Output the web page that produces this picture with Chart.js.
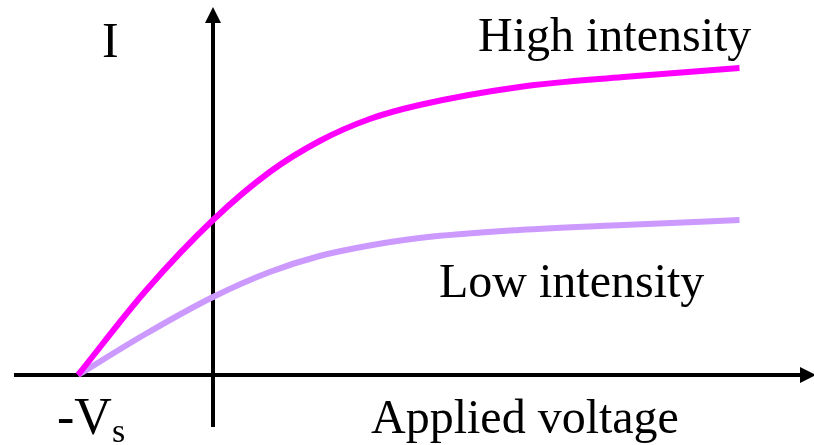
<!DOCTYPE html>
<html>
<head>
<meta charset="utf-8">
<script src="https://cdn.jsdelivr.net/npm/chart.js@4"></script>
<style>
  html, body { margin: 0; padding: 0; background: #fff; }
  #wrap { width: 814px; height: 445px; }
</style>
</head>
<body>
<div id="wrap"><canvas id="chart" width="814" height="445"></canvas></div>
<script>
// applied voltage (units of Vs) and photocurrent
const voltage = [-1, -0.5, 0, 0.42, 0.79, 1.16, 1.53, 2.27, 3.04, 3.9];
const highCurrent = [0, 0.84, 1.55, 2.03, 2.34, 2.56, 2.70, 2.88, 2.98, 3.07];
const lowCurrent = [0, 0.41, 0.78, 1.03, 1.19, 1.295, 1.37, 1.45, 1.50, 1.55];
const seriesLabels = ["High intensity", "Low intensity"];

const toPoints = (ys) => voltage.map((v, i) => ({ x: v, y: ys[i] }));

const serif = "'Liberation Serif', 'DejaVu Serif', serif";

// hand-drawn axes with arrows, crossing at (0, 0)
const axesPlugin = {
  id: "axes",
  beforeDatasetsDraw(chart) {
    const { ctx, scales } = chart;
    const x0 = scales.x.getPixelForValue(0);
    const y0 = scales.y.getPixelForValue(0);
    ctx.save();
    ctx.strokeStyle = "#000";
    ctx.fillStyle = "#000";
    ctx.lineWidth = 4;
    ctx.beginPath();
    ctx.moveTo(14, y0);
    ctx.lineTo(802, y0);
    ctx.moveTo(x0, 427);
    ctx.lineTo(x0, 20);
    ctx.stroke();
    // right arrow
    ctx.beginPath();
    ctx.moveTo(816, y0);
    ctx.lineTo(800, y0 - 8);
    ctx.lineTo(800, y0 + 8);
    ctx.closePath();
    ctx.fill();
    // up arrow
    ctx.beginPath();
    ctx.moveTo(x0, 7);
    ctx.lineTo(x0 - 8, 23);
    ctx.lineTo(x0 + 8, 23);
    ctx.closePath();
    ctx.fill();
    ctx.restore();
  },
  afterDatasetsDraw(chart) {
    const { ctx } = chart;
    ctx.save();
    ctx.fillStyle = "#000";
    ctx.textBaseline = "alphabetic";
    ctx.font = "50px " + serif;
    ctx.fillText("I", 102, 57);
    ctx.font = "48px " + serif;
    ctx.fillText(seriesLabels[0], 478, 51);
    ctx.fillText(seriesLabels[1], 439, 297);
    ctx.fillText("Applied voltage", 371, 433);
    ctx.font = "52px " + serif;
    ctx.fillText("-V", 57, 434);
    ctx.font = "34px " + serif;
    ctx.fillText("s", 112, 442);
    ctx.restore();
  },
};

new Chart(document.getElementById("chart"), {
  type: "line",
  data: {
    datasets: [
      {
        label: seriesLabels[0],
        data: toPoints(highCurrent),
        borderColor: "#ff00ff",
        borderWidth: 6,
        pointRadius: 0,
        cubicInterpolationMode: "monotone",
      },
      {
        label: seriesLabels[1],
        data: toPoints(lowCurrent),
        borderColor: "#cc99ff",
        borderWidth: 6,
        pointRadius: 0,
        cubicInterpolationMode: "monotone",
      },
    ],
  },
  options: {
    responsive: false,
    animation: false,
    layout: { padding: 0 },
    plugins: { legend: { display: false }, tooltip: { enabled: false } },
    scales: {
      x: { type: "linear", min: -213 / 135, max: 601 / 135, display: false },
      y: { type: "linear", min: -0.70, max: 3.75, display: false },
    },
  },
  plugins: [axesPlugin],
});
</script>
</body>
</html>
